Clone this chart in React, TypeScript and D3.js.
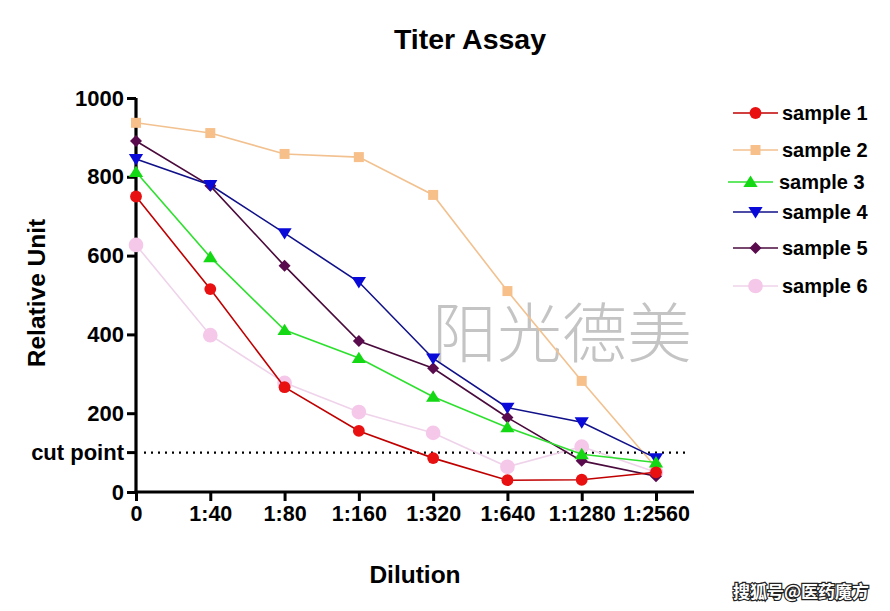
import React, { useEffect, useRef } from 'react';
import * as d3 from 'd3';

const dilutions = ['0', '1:40', '1:80', '1:160', '1:320', '1:640', '1:1280', '1:2560'];
const sample1 = [750, 515, 266, 155, 86, 30, 31, 50];
const sample2 = [937, 911, 858, 850, 754, 510, 282, 62];
const sample3 = [812, 596, 411, 340, 242, 164, 96, 75];
const sample4 = [845, 779, 657, 533, 339, 214, 177, 86];
const sample5 = [891, 777, 574, 383, 314, 189, 79, 40];
const sample6 = [627, 398, 277, 203, 150, 64, 115, 50];
const yTicks = [0, 200, 400, 600, 800, 1000];
const cutPoint = 100;

interface Series {
  name: string;
  values: number[];
  line: string;
  fill: string;
  shape: string;
  size: number;
}

const series: Series[] = [
  { name: 'sample 6', values: sample6, line: '#efd3ea', fill: '#f5c8ea', shape: 'bigcircle', size: 170 },
  { name: 'sample 2', values: sample2, line: '#f2c18f', fill: '#f7c08a', shape: 'square', size: 100 },
  { name: 'sample 5', values: sample5, line: '#4a0a3c', fill: '#5a0b4e', shape: 'diamond', size: 6 },
  { name: 'sample 4', values: sample4, line: '#10108a', fill: '#0a0ad8', shape: 'down', size: 90 },
  { name: 'sample 3', values: sample3, line: '#2ee02e', fill: '#14d814', shape: 'up', size: 90 },
  { name: 'sample 1', values: sample1, line: '#c00000', fill: '#e81010', shape: 'circle', size: 110 },
];

const legendOrder = ['sample 1', 'sample 2', 'sample 3', 'sample 4', 'sample 5', 'sample 6'];
const legendY = [113, 150, 182, 212, 248, 286];

const symbolPath = (shape: string, size: number) => {
  if (shape === 'down') {
    const s = Math.sqrt(size) * 0.75;
    return `M${-s},${-s * 0.7}L${s},${-s * 0.7}L0,${s * 0.9}Z`;
  }
  if (shape === 'up') {
    const s = Math.sqrt(size) * 0.75;
    return `M${-s},${s * 0.7}L${s},${s * 0.7}L0,${-s * 0.9}Z`;
  }
  if (shape === 'diamond') {
    return `M0,${-size}L${size},0L0,${size}L${-size},0Z`;
  }
  const type = shape === 'square' ? d3.symbolSquare : d3.symbolCircle;
  return d3.symbol().type(type).size(size)() as string;
};

const App: React.FC = () => {
  const svgRef = useRef<SVGSVGElement>(null);
  const width = 890;
  const height = 611;

  useEffect(() => {
    if (!svgRef.current) return;
    const svg = d3.select(svgRef.current);
    svg.selectAll('*').remove();

    const font = '"Liberation Sans", Arial, sans-serif';
    const x = d3.scalePoint<string>().domain(dilutions).range([136, 656]);
    const y = d3.scaleLinear().domain([0, 1000]).range([492, 98]);

    svg.append('rect').attr('width', width).attr('height', height).attr('fill', '#ffffff');

    // title
    svg.append('text')
      .attr('x', 470).attr('y', 49)
      .attr('text-anchor', 'middle')
      .attr('font-family', font).attr('font-weight', 'bold').attr('font-size', 28.5)
      .text('Titer Assay');

    // watermark
    svg.append('text')
      .attr('x', 432).attr('y', 357)
      .attr('font-family', '"Noto Sans CJK SC", sans-serif').attr('font-weight', 300)
      .attr('font-size', 65).attr('fill', '#c4c4c4')
      .text('阳光德美');

    // cut point line
    svg.append('line')
      .attr('x1', 144).attr('x2', 690)
      .attr('y1', y(cutPoint)).attr('y2', y(cutPoint))
      .attr('stroke', '#000').attr('stroke-width', 2.2)
      .attr('stroke-dasharray', '2,5');

    // Y axis
    const yAxis = svg.append('g')
      .attr('transform', 'translate(136,0)')
      .call(d3.axisLeft(y).tickValues(yTicks).tickFormat(d3.format('d')).tickSize(9).tickPadding(3));
    yAxis.select('.domain').attr('stroke', '#000').attr('stroke-width', 3.2)
      .attr('d', `M0,${y(1000)}V${y(0)}`);
    yAxis.selectAll('.tick line').attr('stroke', '#000').attr('stroke-width', 3);
    yAxis.selectAll('.tick text')
      .attr('font-family', font).attr('font-weight', 'bold').attr('font-size', 22)
      .attr('fill', '#000');
    const cutTick = yAxis.append('g').attr('transform', `translate(0,${y(cutPoint)})`);
    cutTick.append('line').attr('x1', -9).attr('x2', 0).attr('stroke', '#000').attr('stroke-width', 3);
    cutTick.append('text')
      .attr('x', -12).attr('dy', '0.32em').attr('text-anchor', 'end')
      .attr('fill', '#000')
      .attr('font-family', font).attr('font-weight', 'bold').attr('font-size', 22)
      .text('cut point');

    // X axis
    const xAxis = svg.append('g')
      .attr('transform', `translate(0,${y(0)})`)
      .call(d3.axisBottom(x).tickSize(9).tickPadding(5));
    xAxis.select('.domain').attr('stroke', '#000').attr('stroke-width', 3.2)
      .attr('d', 'M134.5,0H694');
    xAxis.selectAll('.tick line').attr('stroke', '#000').attr('stroke-width', 3);
    xAxis.selectAll('.tick text')
      .attr('font-family', font).attr('font-weight', 'bold').attr('font-size', 21.5)
      .attr('fill', '#000');

    // axis titles
    svg.append('text')
      .attr('transform', 'translate(45,293) rotate(-90)')
      .attr('text-anchor', 'middle')
      .attr('font-family', font).attr('font-weight', 'bold').attr('font-size', 24.5)
      .text('Relative Unit');
    svg.append('text')
      .attr('x', 415).attr('y', 583)
      .attr('text-anchor', 'middle')
      .attr('font-family', font).attr('font-weight', 'bold').attr('font-size', 24.5)
      .text('Dilution');

    // series
    const line = d3.line<number>()
      .x((_, i) => x(dilutions[i]) as number)
      .y(d => y(d));
    series.forEach(s => {
      const g = svg.append('g');
      g.append('path')
        .attr('d', line(s.values) as string)
        .attr('fill', 'none')
        .attr('stroke', s.line)
        .attr('stroke-width', 1.6);
      g.selectAll('path.m')
        .data(s.values)
        .enter().append('path')
        .attr('class', 'm')
        .attr('transform', (d, i) => `translate(${x(dilutions[i])},${y(d)})`)
        .attr('d', symbolPath(s.shape, s.size))
        .attr('fill', s.fill);
    });

    // legend
    const legend = svg.append('g');
    legendOrder.forEach((name, i) => {
      const s = series.find(d => d.name === name)!;
      const shift = name === 'sample 3' ? -5 : 0;
      const row = legend.append('g').attr('transform', `translate(${shift},${legendY[i]})`);
      row.append('line')
        .attr('x1', 733).attr('x2', 778)
        .attr('stroke', s.line).attr('stroke-width', 1.6);
      row.append('path')
        .attr('transform', 'translate(755.5,0)')
        .attr('d', symbolPath(s.shape, s.size))
        .attr('fill', s.fill);
      row.append('text')
        .attr('x', 782 + (name === 'sample 3' ? 2 : 0)).attr('dy', '0.35em')
        .attr('font-family', font).attr('font-weight', 'bold').attr('font-size', 20)
        .text(name);
    });

    // source mark
    svg.append('text')
      .attr('x', 733).attr('y', 598)
      .attr('font-family', '"Noto Sans CJK SC", sans-serif').attr('font-weight', 'bold')
      .attr('font-size', 17)
      .attr('fill', '#ffffff').attr('stroke', '#222').attr('stroke-width', 2.4)
      .attr('paint-order', 'stroke')
      .text('搜狐号@医药魔方');
  }, []);

  return (
    <svg
      ref={svgRef}
      width={width}
      height={height}
      style={{ position: 'absolute', left: 0, top: 0, display: 'block' }}
    />
  );
};

export default App;
